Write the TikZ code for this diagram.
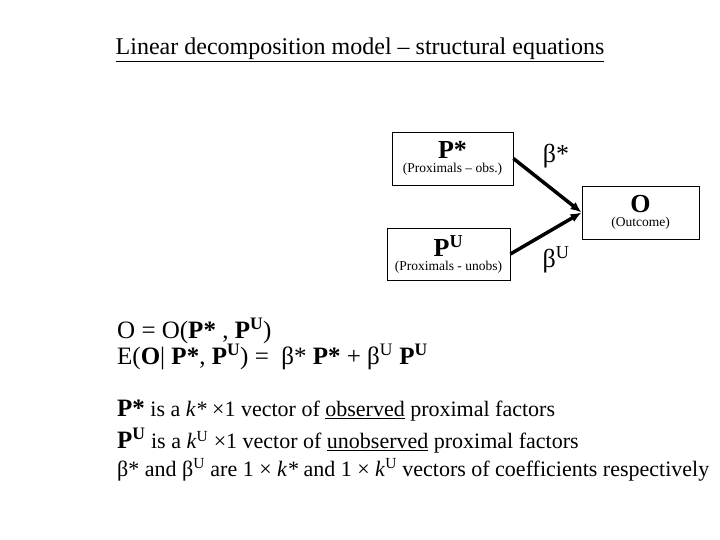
\documentclass[tikz,border=0pt]{standalone}
\usepackage{fontspec}
\setmainfont{Liberation Serif}
\usetikzlibrary{positioning,arrows.meta}
\newcommand{\undl}[1]{\underline{#1}}
\newcommand{\supU}{\textsuperscript{U}}
\newcommand{\supbU}{\textsuperscript{\textbf{U}}}
\tikzstyle{varbox} = [rectangle, draw=black, thick, align=center, inner sep=3pt]
\tikzstyle{coef} = [font=\fontsize{26}{30}\selectfont]
\tikzstyle{eqn} = [anchor=west, inner sep=0pt, font=\fontsize{25}{30}\selectfont]
\tikzstyle{link} = [-{Latex[length=11pt,width=9pt]}, line width=3.5pt]
\begin{document}
\begin{tikzpicture}[x=1pt, y=-1pt]
	\useasboundingbox (0,0) rectangle (720,540);
	\node [font=\fontsize{24}{28}\selectfont] (title) at (360,50) {\undl{Linear decomposition model – structural equations}};

	\node [varbox, minimum width=121pt, minimum height=53pt] (pstar) at (452.5,158.5) {{\fontsize{26}{28}\selectfont\textbf{P*}}\\[2pt]{\fontsize{13.5}{15}\selectfont (Proximals – obs.)}};
	\node [varbox, minimum width=123pt, minimum height=52pt] (pu) at (448.5,254) {{\fontsize{26}{28}\selectfont\textbf{P}\supbU}\\[2pt]{\fontsize{13.5}{15}\selectfont (Proximals - unobs)}};
	\node [varbox, minimum width=117pt, minimum height=53pt] (outc) at (640.5,212.5) {{\fontsize{26}{28}\selectfont\textbf{O}}\\[2pt]{\fontsize{13.5}{15}\selectfont (Outcome)}};

	\draw [link] (pstar.east) -- (outc.west);
	\draw [link] (pu.east) -- (outc.west);
	\node [coef] (bstar) at (556,156) {β*};
	\node [coef] (bu) at (556,260) {β\supU};

	\node [eqn] (eq1) at (117,331) {O = O(\textbf{P*} , \textbf{P}\supbU)};
	\node [eqn] (eq2) at (117,357) {E(\textbf{O}| \textbf{P*}, \textbf{P}\supbU) = \ β* \textbf{P*} + β\supU{} \textbf{P}\supbU};

	\node [eqn, font=\fontsize{22}{26}\selectfont] (def1) at (117,411) {{\fontsize{25}{30}\selectfont\textbf{P*}} is a \textit{k*} ×1 vector of \undl{observed} proximal factors};
	\node [eqn, font=\fontsize{22}{26}\selectfont] (def2) at (117,441) {{\fontsize{25}{30}\selectfont\textbf{P}\supbU} is a \textit{k}\supU{} ×1 vector of \undl{unobserved} proximal factors};
	\node [eqn, font=\fontsize{22}{26}\selectfont] (def3) at (117,470) {β* and β\supU{} are 1 × \textit{k*} and 1 × \textit{k}\supU{} vectors of coefficients respectively};
\end{tikzpicture}
\end{document}
